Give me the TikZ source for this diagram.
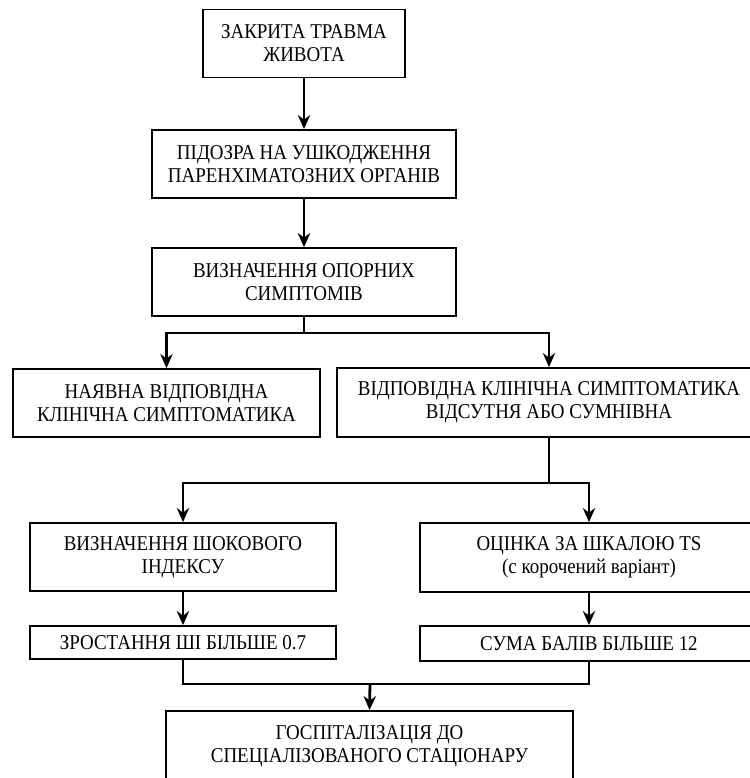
\documentclass[tikz,border=0pt]{standalone}
\usepackage{fontspec}
\setmainfont{Liberation Serif}[FakeStretch=0.9]
\usetikzlibrary{arrows.meta}

\tikzset{
  blok/.style={draw, line width=1pt, align=center, inner sep=0pt,
    font=\fontsize{12pt}{13pt}\selectfont},
  linia/.style={line width=1.6pt},
  strilka/.style={line width=1.6pt, -{Stealth[length=8pt,width=7pt]}}
}

\begin{document}
\begin{tikzpicture}[x=0.02cm, y=-0.02cm]
    % MARGES DEL DIBUIX
    \useasboundingbox (0,0) rectangle (750,778);
    \clip (0,0) rectangle (750,778);

    % BLOCS PRINCIPALS
    \node[blok, minimum width=4.04cm, minimum height=1.36cm] (travma) at (304,43.5) {ЗАКРИТА ТРАВМА\\ЖИВОТА};
    \node[blok, minimum width=6.08cm, minimum height=1.36cm] (pidozra) at (304,164) {ПІДОЗРА НА УШКОДЖЕННЯ\\ПАРЕНХІМАТОЗНИХ ОРГАНІВ};
    \node[blok, minimum width=6.08cm, minimum height=1.36cm] (oporni) at (304,282) {ВИЗНАЧЕННЯ ОПОРНИХ\\СИМПТОМІВ};

    % ДВІ ГІЛКИ
    \node[blok, minimum width=6.14cm, minimum height=1.36cm] (nayavna) at (166.5,403) {НАЯВНА ВІДПОВІДНА\\КЛІНІЧНА СИМПТОМАТИКА};
    \node[blok, minimum width=8.48cm, minimum height=1.38cm] (vidsutnya) at (549,402.5) {ВІДПОВІДНА КЛІНІЧНА СИМПТОМАТИКА\\ВІДСУТНЯ АБО СУМНІВНА};

    % ОЦІНКА СТАНУ
    \node[blok, minimum width=6.12cm, minimum height=1.36cm] (shok) at (183,557) {ВИЗНАЧЕННЯ ШОКОВОГО\\ІНДЕКСУ};
    \node[blok, minimum width=6.76cm, minimum height=1.38cm] (shkala) at (589,557.5) {ОЦІНКА ЗА ШКАЛОЮ TS\\(с корочений варіант)};
    \node[blok, minimum width=6.12cm, minimum height=0.66cm] (shi) at (183,642.5) {ЗРОСТАННЯ ШІ БІЛЬШЕ 0.7};
    \node[blok, minimum width=6.76cm, minimum height=0.7cm] (bali) at (589,643.5) {СУМА БАЛІВ БІЛЬШЕ 12};

    % РЕЗУЛЬТАТ
    \node[blok, minimum width=8.14cm, minimum height=1.4cm] (hosp) at (369.5,746) {ГОСПІТАЛІЗАЦІЯ ДО\\СПЕЦІАЛІЗОВАНОГО СТАЦІОНАРУ};

    % ЗВ'ЯЗКИ
    \coordinate (rozv1) at (304,333);
    \coordinate (rozv2) at (549,483);
    \coordinate (zbir) at (370,684);

    \draw[strilka] (travma) -- (pidozra);
    \draw[strilka] (pidozra) -- (oporni);
    \draw[linia] (oporni.south) -- (rozv1);
    \draw[strilka] (rozv1) -| (nayavna.north);
    \draw[strilka] (rozv1) -| (vidsutnya.north);
    \draw[linia] (vidsutnya.south) -- (rozv2);
    \draw[strilka] (rozv2) -| (shok.north);
    \draw[strilka] (rozv2) -| (shkala.north);
    \draw[strilka] (shok) -- (shi);
    \draw[strilka] (shkala) -- (bali);
    \draw[linia] (shi.south) -- (shi.south |- zbir) -| (bali.south);
    \draw[strilka] (zbir) -- (hosp.north);

\end{tikzpicture}
\end{document}
